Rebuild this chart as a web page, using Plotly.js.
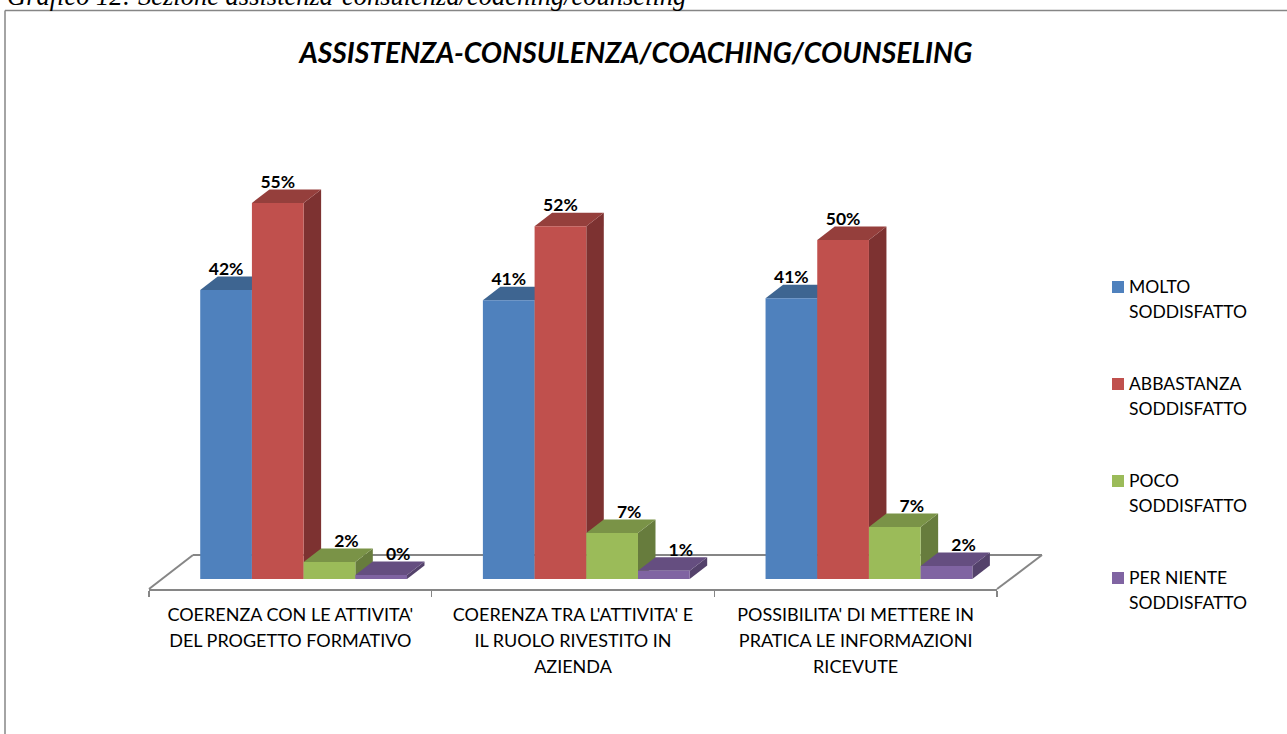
<!DOCTYPE html>
<html>
<head>
<meta charset="utf-8">
<script src="https://cdn.plot.ly/plotly-3.0.1.min.js"></script>
<style>html,body{margin:0;padding:0;background:#fff;overflow:hidden}#chart{width:1287px;height:734px}</style>
</head>
<body>
<div id="chart"></div>
<script>
// ---- data ----
const categories = [
  ["COERENZA CON LE ATTIVITA'", "DEL PROGETTO FORMATIVO"],
  ["COERENZA TRA L'ATTIVITA' E", "IL RUOLO RIVESTITO IN", "AZIENDA"],
  ["POSSIBILITA' DI METTERE IN", "PRATICA LE INFORMAZIONI", "RICEVUTE"]
];
const seriesNames = [
  ["MOLTO", "SODDISFATTO"],
  ["ABBASTANZA", "SODDISFATTO"],
  ["POCO", "SODDISFATTO"],
  ["PER NIENTE", "SODDISFATTO"]
];
const molto      = [42.2, 40.7, 41.0];
const abbastanza = [54.9, 51.5, 49.5];
const poco       = [2.5, 6.7, 7.6];
const perNiente  = [0.6, 1.2, 1.9];
const moltoLabels      = ["42%", "41%", "41%"];
const abbastanzaLabels = ["55%", "52%", "50%"];
const pocoLabels       = ["2%", "7%", "7%"];
const perNienteLabels  = ["0%", "1%", "2%"];
const frontColors = ["#4F81BD", "#C0504D", "#9BBB59", "#8064A2"];
const topColors   = ["#3E6591", "#953F3C", "#7A9347", "#654E80"];
const sideColors  = ["#345378", "#7D3231", "#677C3D", "#54426B"];
const titleText = "ASSISTENZA-CONSULENZA/COACHING/COUNSELING";
const captionText = "Grafico 12: Sezione assistenza-consulenza/coaching/counseling";

// ---- layout geometry ----
const W = 1287, H = 734;
const L = 149, R = 997, T = 100, B = 589;
const pxPerCat = (R - L) / 3, pxPerPct = 6.85;
const yMin = -(B - 579) / pxPerPct, yMax = (579 - T) / pxPerPct;
const px = v => v / pxPerCat;          // horizontal pixels -> x units
const py = v => v / pxPerPct;          // vertical pixels -> y units
const paperX = x => (x - L) / (R - L);
const paperY = y => (B - y) / (B - T);
const FONT = "Lato, sans-serif";
const GREY = "#868686";
const barW = px(51.7), groupShift = 0.047;
const depthX = px(17.5), depthY = py(13.5);

const allValues = [molto, abbastanza, poco, perNiente];
const allLabels = [moltoLabels, abbastanzaLabels, pocoLabels, perNienteLabels];
const centers = categories.map((_, i) => i + 0.5 + groupShift);

// Line-spaced text: parent font size sets line spacing, span sets glyph size.
const spaced = (lines, size) => lines.map(l => `<span style="font-size:${size}px">${l}</span>`).join("<br>");

const traces = [];
const shapes = [];

// floor outline, overhanging the plot area so it is placed on the page
const floorLine = (x0, y0, x1, y1) => ({type: "line", layer: "below", xref: "paper", yref: "paper",
  x0: paperX(x0), y0: paperY(y0), x1: paperX(x1), y1: paperY(y1), line: {color: GREY, width: 2}});
shapes.push(floorLine(L, B, 193, 555));
shapes.push(floorLine(193, 555, 1042, 555));
shapes.push(floorLine(R, B, 1042, 555));

// series bars and their depth faces
allValues.forEach((vals, s) => {
  const offset = (s - 1.5) * barW;
  const xs = centers.map(c => c + offset);
  traces.push({
    type: "bar", name: seriesNames[s].join(" "), x: xs, y: vals, width: barW,
    marker: {color: frontColors[s], line: {width: 0}}, hoverinfo: "name+y", showlegend: false
  });
  vals.forEach((v, i) => {
    const a = xs[i] - barW / 2, b = xs[i] + barW / 2;
    shapes.push({type: "path", layer: "below", xref: "x", yref: "y", line: {width: 0}, fillcolor: sideColors[s],
      path: `M${b},0 L${b + depthX},${depthY} L${b + depthX},${v + depthY} L${b},${v} Z`});
    shapes.push({type: "path", layer: "below", xref: "x", yref: "y", line: {width: 0}, fillcolor: topColors[s],
      path: `M${a},${v} L${a + depthX},${v + depthY} L${b + depthX},${v + depthY} L${b},${v} Z`});
  });
  // value labels sit above the bar's top face; short bars have them nudged along the depth
  traces.push({
    type: "scatter", mode: "text", showlegend: false, hoverinfo: "skip", cliponaxis: false,
    x: xs.map((x, i) => vals[i] < 10 ? x + px(17) : x),
    y: vals.map(v => v + depthY - py(3)),
    text: allLabels[s], textposition: "top center",
    textfont: {family: FONT, size: 17.5, color: "#000", weight: 700}
  });
});

// frame and legend swatches (page furniture)
const paperLine = (x0, y0, x1, y1) => ({type: "line", layer: "below", xref: "paper", yref: "paper",
  x0: paperX(x0), y0: paperY(y0), x1: paperX(x1), y1: paperY(y1), line: {color: GREY, width: 1.5}});
shapes.push(paperLine(5, 10.5, W + 5, 10.5));
shapes.push(paperLine(5, 10.5, 5, H + 5));

const annotations = [];
const legendTops = [287, 384, 481, 578];
seriesNames.forEach((lines, s) => {
  shapes.push({type: "rect", xref: "paper", yref: "paper", line: {width: 0}, fillcolor: frontColors[s],
    x0: paperX(1112), x1: paperX(1124), y0: paperY(legendTops[s] - 6), y1: paperY(legendTops[s] + 6)});
  annotations.push({xref: "paper", yref: "paper", x: paperX(1128), y: paperY(legendTops[s] - 12),
    xanchor: "left", yanchor: "top", align: "left", showarrow: false,
    text: spaced(lines, 17.5), font: {family: FONT, size: 19.2, color: "#000"}, borderpad: 0});
});
annotations.push({xref: "paper", yref: "paper", x: paperX(6), y: paperY(-20), xanchor: "left", yanchor: "top",
  showarrow: false, text: captionText, font: {family: "Liberation Serif, serif", size: 26.5, color: "#000", style: "italic"}, borderpad: 0});

const layout = {
  width: W, height: H, autosize: false,
  paper_bgcolor: "#fff", plot_bgcolor: "rgba(0,0,0,0)",
  margin: {l: L, r: W - R, t: T, b: H - B, pad: 0},
  showlegend: false, barmode: "overlay",
  title: {text: titleText, x: 636 / W, xanchor: "center", y: 1 - 53 / H, yanchor: "middle",
          font: {family: FONT, size: 28.2, color: "#000", weight: 700, style: "italic"}},
  xaxis: {
    type: "linear", range: [0, 3], fixedrange: true, showgrid: false, zeroline: false,
    showline: true, linecolor: GREY, linewidth: 2,
    tickmode: "array", tickvals: categories.map((_, i) => i + 0.5),
    ticktext: categories.map(c => spaced(c, 18)), ticks: "", ticklen: 0,
    ticklabelstandoff: 6,
    tickfont: {family: FONT, size: 20, color: "#000"},
    minor: {tickmode: "array", tickvals: [0, 1, 2, 3], ticks: "outside", ticklen: 6, tickcolor: GREY, tickwidth: 1.5, showgrid: false}
  },
  yaxis: {range: [yMin, yMax], visible: false, fixedrange: true},
  shapes, annotations,
  font: {family: FONT}
};
Plotly.newPlot("chart", traces, layout, {displayModeBar: false, staticPlot: true});
</script>
</body>
</html>
